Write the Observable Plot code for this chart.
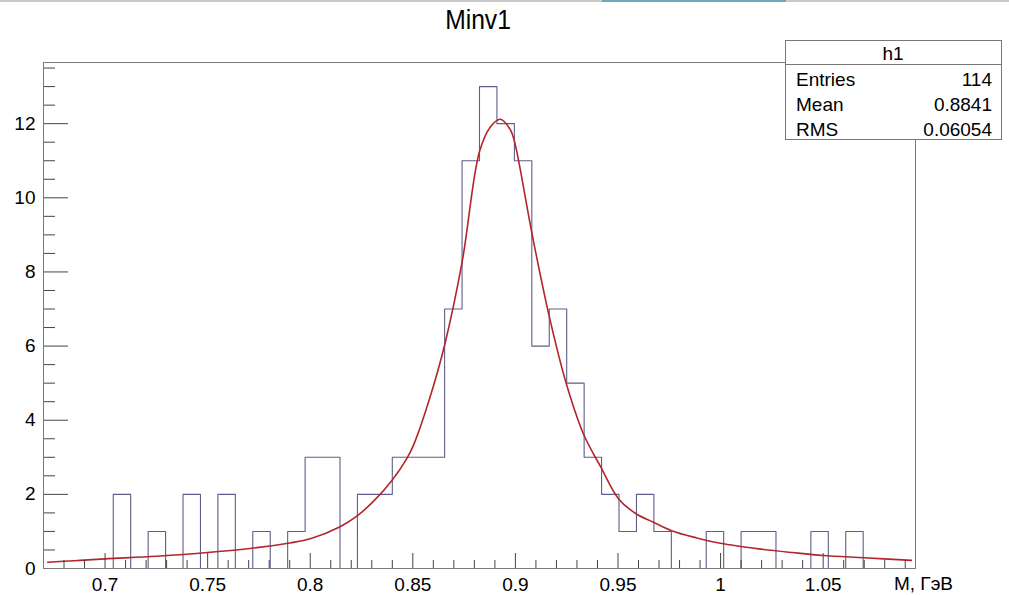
<!DOCTYPE html>
<html>
<head>
<meta charset="utf-8">
<script src="https://cdn.jsdelivr.net/npm/d3@7"></script>
<script src="https://cdn.jsdelivr.net/npm/@observablehq/plot@0.6"></script>
<style>
  html, body { margin: 0; padding: 0; background: #fff; }
  #wrap { position: relative; width: 1009px; height: 595px; overflow: hidden; font-family: 'Liberation Sans', Arial, Helvetica, sans-serif; }
  #wrap > svg.overlay { position: absolute; left: 0; top: 0; }
</style>
</head>
<body>
<div id="wrap"></div>
<script>
// ---- Data ----
const titleText = "Minv1";
const xLabel = "M, ГэВ";
const histName = "h1";
const histRange = [0.67, 1.095];   // 50 bins
const counts = [0, 0, 0, 0, 2, 0, 1, 0, 2, 0,
                2, 0, 1, 0, 1, 3, 3, 0, 2, 2,
                3, 3, 3, 7, 11, 13, 12, 11, 6, 7,
                5, 3, 2, 1, 2, 1, 0, 0, 1, 0,
                1, 1, 0, 0, 1, 0, 1, 0, 0, 0];
const fitX = [0.672, 0.685, 0.700, 0.725, 0.750, 0.775, 0.790, 0.800, 0.8143, 0.8229, 0.8315, 0.8399, 0.8469, 0.8505,
              0.8580, 0.8656, 0.8741, 0.8825, 0.8879, 0.8927, 0.8976, 0.8996, 0.9082, 0.9163, 0.9249,
              0.9334, 0.9415, 0.9504, 0.9590, 0.9672, 0.9761, 0.988, 1.000, 1.0187, 1.035, 1.050, 1.070, 1.093];
const fitY = [0.17, 0.21, 0.26, 0.33, 0.43, 0.57, 0.69, 0.80, 1.12, 1.42, 1.85, 2.38, 2.95, 3.35,
              4.55, 6.05, 8.29, 11.25, 11.92, 12.12, 11.83, 11.51, 9.00, 6.85, 4.97,
              3.60, 2.75, 1.87, 1.47, 1.25, 1.02, 0.83, 0.68, 0.53, 0.43, 0.35, 0.29, 0.22];
const xMajor = [0.7, 0.75, 0.8, 0.85, 0.9, 0.95, 1, 1.05];
const xMinor = [0.68, 0.69, 0.71, 0.72, 0.73, 0.74, 0.76, 0.77, 0.78, 0.79, 0.81, 0.82, 0.83, 0.84,
                0.86, 0.87, 0.88, 0.89, 0.91, 0.92, 0.93, 0.94, 0.96, 0.97, 0.98, 0.99,
                1.01, 1.02, 1.03, 1.04, 1.06, 1.07, 1.08, 1.09];
const yMajor = [0, 2, 4, 6, 8, 10, 12];
const yMinor = [0.5, 1, 1.5, 2.5, 3, 3.5, 4.5, 5, 5.5, 6.5, 7, 7.5, 8.5, 9, 9.5, 10.5, 11, 11.5, 12.5, 13, 13.5];
const yMax = 13.65;
const statsLabels = ["Entries", "Mean", "RMS"];
const statsValues = ["114", "0.8841", "0.06054"];

// ---- Build tables ----
const nb = counts.length;
const bw = (histRange[1] - histRange[0]) / nb;
const histPts = [];
for (let i = 0; i <= nb; i++) histPts.push({x: histRange[0] + i * bw, y: counts[Math.min(i, nb - 1)]});
const fitPts = fitX.map((x, i) => ({x, y: fitY[i]}));

const W = 1009, H = 595, mL = 43, mR = 94, mT = 62, mB = 27;
const innerW = W - mL - mR, innerH = H - mT - mB;

const chart = Plot.plot({
  width: W, height: H,
  marginLeft: mL, marginRight: mR, marginTop: mT, marginBottom: mB,
  x: {domain: histRange},
  y: {domain: [0, yMax]},
  style: {fontFamily: "'Liberation Sans', Arial, Helvetica, sans-serif", fontSize: "19px", color: "#000", background: "#fff"},
  marks: [
    Plot.line(histPts, {x: "x", y: "y", curve: "step-after", stroke: "#5e5e8c", strokeWidth: 1.1}),
    Plot.line(fitPts, {x: "x", y: "y", curve: "catmull-rom", stroke: "#b3252b", strokeWidth: 1.6}),
    Plot.tickY(yMajor, {y: d => d, stroke: "#444", insetRight: innerW - 25}),
    Plot.tickY(yMinor, {y: d => d, stroke: "#444", insetRight: innerW - 12}),
    Plot.tickX(xMajor, {x: d => d, stroke: "#444", insetTop: innerH - 15}),
    Plot.tickX(xMinor, {x: d => d, stroke: "#444", insetTop: innerH - 8}),
    Plot.frame({stroke: "#7a7a7a"}),
    Plot.axisY({ticks: yMajor, tickSize: 0, tickPadding: 8, tickFormat: d => String(d), label: null, fontSize: 19}),
    Plot.axisX({ticks: xMajor, tickSize: 0, tickPadding: 9, tickFormat: d => String(d), label: null, fontSize: 19})
  ]
});
const wrap = document.getElementById("wrap");
wrap.appendChild(chart);

// ---- Overlay: artifacts strip, title, stats box, axis title ----
const ns = "http://www.w3.org/2000/svg";
const ov = document.createElementNS(ns, "svg");
ov.setAttribute("class", "overlay");
ov.setAttribute("width", W); ov.setAttribute("height", H);
function el(tag, attrs, text) {
  const e = document.createElementNS(ns, tag);
  for (const k in attrs) e.setAttribute(k, attrs[k]);
  if (text != null) e.textContent = text;
  ov.appendChild(e);
  return e;
}
el("rect", {x: 0, y: 0, width: W, height: 2, fill: "#c8c8c8"});
el("rect", {x: 602, y: 0, width: 184, height: 2, fill: "#6aaab8"});
el("text", {x: 478, y: 29.5, "text-anchor": "middle", "font-size": 28, fill: "#000", transform: "translate(478 0) scale(0.88 1) translate(-478 0)"}, titleText);
// stats box
el("rect", {x: 785.5, y: 40.5, width: 216, height: 99, fill: "#fff", stroke: "#777", "stroke-width": 1});
el("line", {x1: 785.5, x2: 1001.5, y1: 64.5, y2: 64.5, stroke: "#777", "stroke-width": 1});
el("text", {x: 893, y: 60, "text-anchor": "middle", "font-size": 19, fill: "#000"}, histName);
statsLabels.forEach((lab, i) => {
  const y = 86 + i * 25;
  el("text", {x: 796, y, "font-size": 19, fill: "#000"}, lab);
  el("text", {x: 992, y, "text-anchor": "end", "font-size": 19, fill: "#000"}, statsValues[i]);
});
el("text", {x: 953, y: 590, "text-anchor": "end", "font-size": 19, fill: "#000"}, xLabel);
wrap.appendChild(ov);
</script>
</body>
</html>
